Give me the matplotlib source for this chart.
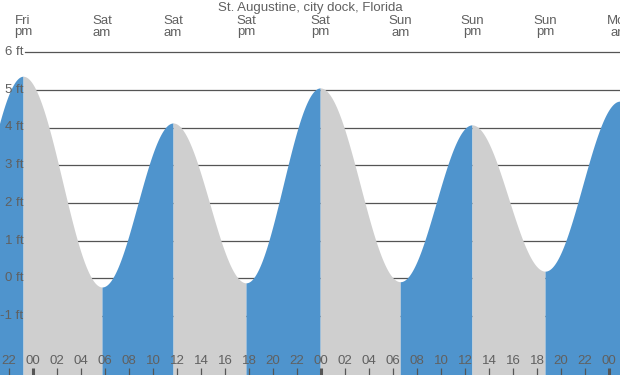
#!/usr/bin/env python3
# -*- coding: utf-8 -*-
"""
St. Augustine 潮汐图
"""

import matplotlib
matplotlib.use('Agg')
import matplotlib.pyplot as plt
import numpy as np

plt.rcParams['font.family'] = ['Liberation Sans', 'DejaVu Sans']

# 潮汐极值 (小时, 从周六 00:00 起算) 与高度 (ft)
extreme_hours = [-7.0, -0.83, 5.75, 11.67, 17.75, 23.93, 30.6, 36.58, 42.67, 48.9]
extreme_heights = [-0.1, 5.36, -0.23, 4.12, -0.12, 5.05, -0.09, 4.07, 0.19, 4.7]
day_names = ['Fri', 'Sat', 'Sun', 'Mon']
y_ticks = [-1, 0, 1, 2, 3, 4, 5, 6]
x_ticks = list(range(-2, 50, 2))

title = 'St. Augustine, city dock, Florida'
blue = '#4f94cd'
grey = '#cfcfcf'
txt = '#606060'
fs = 9.5

x0, x1 = -33 / 12, (620 - 33) / 12
y0, y1 = (278.3 - 375) / 37.7, 278.3 / 37.7

fig = plt.figure(figsize=(6.2, 3.75), dpi=100)
ax = fig.add_axes([0, 0, 1, 1])
ax.set_xlim(x0, x1)
ax.set_ylim(y0, y1)
ax.axis('off')

# 网格线 (在填充之下)
for v in y_ticks:
    ax.plot([-8 / 12, x1], [v, v], color='#555555', lw=0.9, zorder=1)
    ax.text(-9.5 / 12, v, f'{v} ft', ha='right', va='center',
            fontsize=fs, color=txt, zorder=5)

# 余弦插值绘制每段潮汐曲线
for i in range(len(extreme_hours) - 1):
    ta, tb = extreme_hours[i], extreme_hours[i + 1]
    ha_, hb = extreme_heights[i], extreme_heights[i + 1]
    t = np.linspace(ta, tb, 200)
    h = ha_ + (hb - ha_) * (1 - np.cos(np.pi * (t - ta) / (tb - ta))) / 2
    color = blue if hb > ha_ else grey
    ax.fill_between(t, y0 - 1, h, color=color, lw=0, zorder=2)

# 顶部日期标签
for hr in extreme_hours[1:]:
    day = day_names[int(np.floor((hr + 24) / 24))]
    ampm = 'am' if (hr % 24) < 12 else 'pm'
    ax.text(hr, y1 - 20.5 / 37.7, day, ha='center', va='center', fontsize=fs, color=txt)
    ax.text(hr, y1 - 32.5 / 37.7, ampm, ha='center', va='center', fontsize=fs, color=txt)

ax.text((x0 + x1) / 2, y1 - 7.5 / 37.7, title, ha='center', va='center',
        fontsize=fs, color=txt)

# 底部刻度
for hr in x_ticks:
    ax.text(hr, y0 + 14 / 37.7, f'{hr % 24:02d}', ha='center', va='center',
            fontsize=fs, color=txt, zorder=5)
    lw = 2.2 if hr % 24 == 0 else 0.9
    ax.plot([hr, hr], [y0, y0 + 7.5 / 37.7], color='#555555', lw=lw,
            solid_capstyle='butt', zorder=5)

plt.savefig('out.png', dpi=100)
plt.close()
